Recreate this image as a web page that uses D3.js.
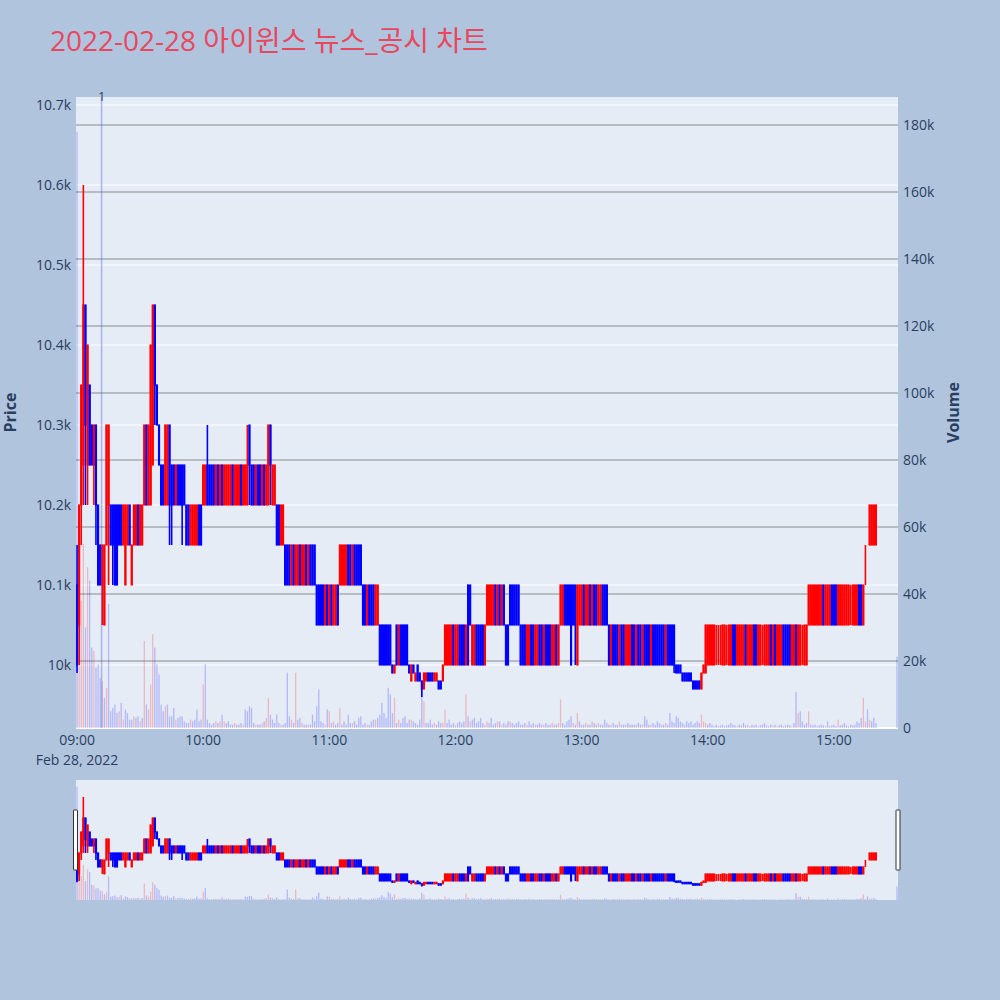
<!DOCTYPE html>
<html><head><meta charset="utf-8">
<script src="https://cdn.jsdelivr.net/npm/d3@7"></script>
<style>body{margin:0;background:#b0c4de;}svg{display:block;}</style>
</head><body>
<svg id="chart" width="1000" height="1000"></svg>
<script>
const titleText = "2022-02-28 아이윈스 뉴스_공시 차트";
const dateLabel = "Feb 28, 2022";
const hourTicks = ["09:00","10:00","11:00","12:00","13:00","14:00","15:00"];
const priceTicks = [10000,10100,10200,10300,10400,10500,10600,10700];
const priceTickLabels = ["10k","10.1k","10.2k","10.3k","10.4k","10.5k","10.6k","10.7k"];
const volumeTicks = [0,20000,40000,60000,80000,100000,120000,140000,160000,180000];
const volumeTickLabels = ["0","20k","40k","60k","80k","100k","120k","140k","160k","180k"];
const newsTimes = ["09:11:40"];
const newsLabels = ["1"];

const open = [
10100,10050,10200,10250,10450,10250,10350,10300,10250,10300,
10200,10150,10100,10050,10150,10200,10200,10200,10200,10200,
10200,10200,10150,10100,10150,10200,10100,10150,10150,10200,
10150,10150,10200,10300,10200,10200,10250,10450,10350,10300,
10250,10250,10200,10200,10300,10250,10250,10200,10250,10250,
10250,10250,10200,10200,10150,10150,10150,10150,10200,10200,
10200,10200,10250,10250,10250,10250,10200,10250,10200,10250,
10200,10200,10200,10200,10250,10200,10200,10200,10250,10200,
10200,10200,10300,10250,10250,10200,10250,10250,10200,10250,
10200,10200,10300,10200,10200,10200,10200,10150,10150,10150,
10150,10150,10100,10150,10100,10100,10150,10100,10100,10150,
10100,10150,10150,10150,10100,10100,10100,10100,10050,10100,
10050,10100,10050,10050,10100,10100,10100,10100,10100,10150,
10150,10100,10150,10150,10150,10150,10100,10100,10050,10100,
10100,10100,10050,10050,10050,10050,10050,10050,10050,10050,
10000,9990,10050,10000,10050,10050,10050,10050,10000,9980,
10000,9980,10000,9990,9980,9970,9980,9990,9990,9990,
9980,9980,9980,9980,9980,10000,10000,10000,10000,10050,
10000,10000,10050,10050,10050,10000,10100,10100,10000,10000,
10050,10050,10050,10050,10000,10050,10050,10050,10050,10100,
10050,10100,10050,10100,10050,10050,10100,10100,10100,10100,
10100,10050,10050,10050,10000,10000,10050,10050,10000,10000,
10050,10050,10000,10050,10050,10050,10000,10000,10050,10000,
10050,10050,10100,10100,10100,10100,10100,10100,10000,10050,
10050,10100,10050,10050,10100,10050,10100,10100,10050,10050,
10100,10100,10100,10050,10000,10050,10050,10050,10000,10050,
10050,10000,10000,10000,10050,10050,10000,10050,10050,10000,
10050,10050,10050,10000,10050,10050,10050,10050,10050,10050,
10000,10050,10050,10050,10050,10000,10000,10000,9990,9990,
9990,9990,9990,9980,9980,9980,9980,9970,9990,9990,
10000,10000,10000,10000,10050,10050,10050,10000,10000,10050,
10000,10000,10050,10050,10000,10000,10000,10000,10050,10000,
10000,10000,10050,10050,10000,10000,10050,10000,10000,10000,
10050,10000,10050,10000,10000,10000,10050,10050,10050,10050,
10000,10000,10050,10000,10000,10050,10000,10000,10050,10050,
10050,10050,10050,10050,10050,10100,10050,10050,10050,10100,
10100,10100,10050,10050,10050,10050,10050,10050,10100,10050,
10050,10050,10100,10100,10050,10150,10150,10150,10150,10150,
10150,10200];

const high = [
10150,10200,10350,10600,10450,10400,10350,10300,10300,10300,
10200,10150,10150,10150,10300,10300,10200,10200,10200,10200,
10200,10200,10200,10200,10200,10200,10150,10200,10200,10200,
10200,10200,10300,10300,10300,10400,10450,10450,10350,10300,
10250,10250,10300,10300,10300,10250,10250,10250,10250,10250,
10250,10250,10200,10200,10200,10200,10200,10200,10200,10200,
10250,10250,10300,10250,10250,10250,10250,10250,10250,10250,
10250,10250,10250,10250,10250,10250,10250,10250,10250,10250,
10250,10300,10300,10250,10250,10250,10250,10250,10250,10250,
10250,10300,10300,10250,10250,10200,10200,10200,10200,10150,
10150,10150,10150,10150,10150,10150,10150,10150,10150,10150,
10150,10150,10150,10150,10100,10100,10100,10100,10100,10100,
10100,10100,10100,10100,10100,10150,10150,10150,10150,10150,
10150,10150,10150,10150,10150,10150,10100,10100,10100,10100,
10100,10100,10100,10100,10050,10050,10050,10050,10050,10050,
10000,10000,10050,10050,10050,10050,10050,10050,10000,10000,
10000,9990,10000,9990,9980,9990,9990,9990,9990,9990,
9990,9990,9980,9980,10000,10050,10050,10050,10050,10050,
10050,10050,10050,10050,10050,10050,10100,10100,10050,10050,
10050,10050,10050,10050,10050,10100,10100,10100,10100,10100,
10100,10100,10100,10100,10050,10050,10100,10100,10100,10100,
10100,10050,10050,10050,10050,10050,10050,10050,10050,10050,
10050,10050,10050,10050,10050,10050,10050,10050,10050,10050,
10100,10100,10100,10100,10100,10100,10100,10100,10100,10100,
10100,10100,10100,10100,10100,10100,10100,10100,10100,10100,
10100,10100,10100,10050,10050,10050,10050,10050,10050,10050,
10050,10050,10050,10050,10050,10050,10050,10050,10050,10050,
10050,10050,10050,10050,10050,10050,10050,10050,10050,10050,
10050,10050,10050,10050,10050,10000,10000,10000,9990,9990,
9990,9990,9990,9980,9980,9980,9980,9990,10000,10050,
10050,10050,10050,10050,10050,10050,10050,10050,10050,10050,
10050,10050,10050,10050,10050,10050,10050,10050,10050,10050,
10050,10050,10050,10050,10050,10050,10050,10050,10050,10050,
10050,10050,10050,10050,10050,10050,10050,10050,10050,10050,
10050,10050,10050,10050,10050,10050,10050,10050,10100,10100,
10100,10100,10100,10100,10100,10100,10100,10100,10100,10100,
10100,10100,10100,10100,10100,10100,10100,10100,10100,10100,
10100,10100,10100,10100,10100,10150,10150,10200,10200,10200,
10200,10200];

const low = [
9990,10000,10150,10200,10200,10200,10250,10250,10200,10150,
10100,10100,10050,10050,10150,10100,10150,10100,10100,10100,
10150,10150,10150,10100,10150,10150,10100,10150,10150,10150,
10150,10150,10200,10200,10200,10200,10250,10300,10300,10250,
10200,10200,10200,10200,10150,10150,10200,10200,10200,10200,
10150,10200,10150,10150,10150,10150,10150,10150,10150,10150,
10200,10200,10200,10200,10200,10200,10200,10200,10200,10200,
10200,10200,10200,10200,10200,10200,10200,10200,10200,10200,
10200,10200,10200,10200,10200,10200,10200,10200,10200,10200,
10200,10200,10200,10200,10200,10150,10150,10150,10150,10100,
10100,10100,10100,10100,10100,10100,10100,10100,10100,10100,
10100,10100,10100,10100,10050,10050,10050,10050,10050,10050,
10050,10050,10050,10050,10050,10100,10100,10100,10100,10100,
10100,10100,10100,10100,10100,10100,10050,10050,10050,10050,
10050,10050,10050,10050,10000,10000,10000,10000,10000,10000,
9990,9990,10000,10000,10000,10000,10000,10000,9990,9980,
9990,9980,9980,9980,9960,9970,9980,9980,9980,9980,
9980,9980,9970,9970,9980,10000,10000,10000,10000,10000,
10000,10000,10000,10000,10000,10000,10000,10050,10000,10000,
10000,10000,10000,10000,10000,10050,10050,10050,10050,10050,
10050,10050,10050,10050,10000,10000,10050,10050,10050,10050,
10050,10000,10000,10000,10000,10000,10000,10000,10000,10000,
10000,10000,10000,10000,10000,10000,10000,10000,10000,10000,
10050,10050,10050,10050,10050,10000,10050,10000,10000,10050,
10050,10050,10050,10050,10050,10050,10050,10050,10050,10050,
10050,10050,10050,10000,10000,10000,10000,10000,10000,10000,
10000,10000,10000,10000,10000,10000,10000,10000,10000,10000,
10000,10000,10000,10000,10000,10000,10000,10000,10000,10000,
10000,10000,10000,10000,9990,9990,9990,9990,9980,9980,
9980,9980,9980,9970,9970,9970,9970,9970,9990,9990,
10000,10000,10000,10000,10000,10000,10000,10000,10000,10000,
10000,10000,10000,10000,10000,10000,10000,10000,10000,10000,
10000,10000,10000,10000,10000,10000,10000,10000,10000,10000,
10000,10000,10000,10000,10000,10000,10000,10000,10000,10000,
10000,10000,10000,10000,10000,10000,10000,10000,10050,10050,
10050,10050,10050,10050,10050,10050,10050,10050,10050,10050,
10050,10050,10050,10050,10050,10050,10050,10050,10050,10050,
10050,10050,10050,10050,10050,10100,10150,10150,10150,10150,
10150,10200];

const close = [
10000,10200,10350,10450,10300,10400,10250,10250,10300,10200,
10100,10100,10150,10150,10300,10300,10150,10150,10100,10100,
10150,10150,10200,10200,10200,10150,10150,10200,10200,10150,
10200,10200,10300,10200,10300,10400,10450,10350,10300,10250,
10200,10200,10300,10300,10200,10200,10200,10250,10200,10200,
10200,10200,10150,10150,10200,10200,10200,10200,10150,10150,
10250,10250,10200,10200,10200,10200,10250,10200,10250,10200,
10250,10250,10250,10250,10200,10250,10250,10250,10200,10250,
10250,10250,10250,10200,10200,10250,10200,10200,10250,10200,
10250,10300,10250,10250,10250,10150,10150,10200,10200,10100,
10100,10100,10150,10100,10150,10150,10100,10150,10150,10100,
10150,10100,10100,10100,10050,10050,10050,10050,10100,10050,
10100,10050,10100,10100,10050,10150,10150,10150,10150,10100,
10100,10150,10100,10100,10100,10100,10050,10050,10100,10050,
10050,10050,10100,10100,10000,10000,10000,10000,10000,10000,
9990,10000,10000,10050,10000,10000,10000,10000,9990,10000,
9990,9990,9980,9980,9970,9990,9990,9980,9980,9980,
9990,9990,9970,9970,10000,10050,10050,10050,10050,10000,
10050,10050,10000,10000,10000,10050,10000,10050,10050,10050,
10000,10000,10000,10000,10050,10100,10100,10100,10100,10050,
10100,10050,10100,10050,10000,10000,10050,10050,10050,10050,
10050,10000,10000,10000,10050,10050,10000,10000,10050,10050,
10000,10000,10050,10000,10000,10000,10050,10050,10000,10050,
10100,10100,10050,10050,10050,10000,10050,10050,10100,10100,
10100,10050,10100,10100,10050,10100,10050,10050,10100,10100,
10050,10050,10050,10000,10050,10000,10000,10000,10050,10000,
10000,10050,10050,10050,10000,10000,10050,10000,10000,10050,
10000,10000,10000,10050,10000,10000,10000,10000,10000,10000,
10050,10000,10000,10000,10000,9990,9990,9990,9980,9980,
9980,9980,9980,9970,9970,9970,9970,9990,10000,10050,
10050,10050,10050,10050,10050,10050,10050,10050,10050,10050,
10050,10050,10000,10000,10050,10050,10050,10050,10000,10050,
10050,10050,10000,10000,10050,10050,10050,10050,10050,10050,
10000,10050,10000,10050,10050,10050,10000,10000,10000,10000,
10050,10050,10000,10050,10050,10050,10050,10050,10100,10100,
10100,10100,10100,10100,10100,10050,10100,10100,10100,10050,
10050,10050,10100,10100,10100,10100,10100,10100,10100,10100,
10100,10100,10050,10050,10100,10150,10150,10200,10200,10200,
10200,10200];

const volume = [
178000,42000,38000,55000,30000,48000,44000,24000,23000,18000,
19000,15000,14000,9000,12000,37000,5000,6000,7000,4500,
5000,7500,2500,5500,4500,2500,2500,3500,3000,3500,
2000,3000,26000,7000,5500,13000,28000,24000,19000,16000,
7000,5000,6500,7000,3500,3500,6000,2500,3000,3500,
3500,2000,1500,1500,2500,2000,2500,5500,2000,2500,
13000,19000,2500,1500,1000,1500,2000,1500,2000,4000,
2000,1500,2000,1000,1000,1500,1000,1000,1500,1000,
5500,5000,6500,6000,1500,1000,1000,1000,1500,2000,
3000,9000,4000,2500,1500,4000,1500,1000,1000,1500,
16500,3500,2500,1500,16500,2500,3000,1500,1000,1000,
1000,1000,4000,2000,6500,11500,2000,1500,1000,5500,
5000,1500,2000,1000,1500,6000,1000,2000,1000,4000,
1500,1500,2000,1000,3000,3500,1000,1500,1000,1000,
2000,2500,2500,3000,4000,7500,4500,3000,12000,10000,
4500,9000,1500,2500,1500,3000,3500,1500,2500,2500,
2000,1500,1000,2500,11000,8000,1500,1500,2500,1000,
1500,1000,2000,1500,1500,5500,1500,2500,1000,1500,
1000,1500,2000,1500,2000,10000,3500,2000,2500,3000,
1500,2000,3000,1500,1000,2000,1500,3000,1000,1500,
2000,2000,1000,1500,1000,2000,2000,1500,1000,1500,
2000,1000,1000,1500,1000,2000,1000,1500,1000,1000,
1500,1000,1000,1500,1000,1000,1500,1000,1000,1500,
8500,1500,1000,2000,2500,3500,1500,1000,4500,2000,
1000,1000,1500,1000,1000,2000,1500,1000,1500,1000,
1000,2500,1500,1000,1000,1500,1000,1000,2000,1000,
1000,1000,1500,1000,1000,1000,1000,1500,1000,1000,
3500,2500,1000,1000,1500,1000,2000,1500,1000,1000,
1500,1000,4500,2000,1500,3500,3000,2000,1500,1000,
2000,1500,2000,1000,1500,2000,1500,4000,2000,1500,
1000,1500,1000,500,1000,500,800,1000,500,800,
1000,1500,1000,800,500,1000,800,1500,800,1000,
500,1000,800,1000,500,800,1000,1500,800,500,
1000,800,1000,500,800,1000,500,800,1000,800,
500,1500,10800,4500,5000,2000,1000,1500,5000,1000,
800,1000,500,800,1000,800,500,2000,500,800,
1000,500,2500,800,1000,1500,800,500,1000,800,
1000,2000,1500,3000,9000,2000,5500,2500,2000,3000,
1500,21300];

// trading minutes: 09:00 .. 15:20 continuous, then the 15:30 closing auction
const times = d3.timeMinute.range(new Date(2022,1,28,9,0), new Date(2022,1,28,15,21))
  .concat([new Date(2022,1,28,15,30)]);
const n = Math.min(times.length, open.length, high.length, low.length, close.length, volume.length);

const parseHM = d3.timeParse("%Y-%m-%d %H:%M");
const parseHMS = d3.timeParse("%Y-%m-%d %H:%M:%S");

const FONT = "'Open Sans','Noto Sans CJK KR','Noto Sans',sans-serif";
const TXT = "#2a3f5f";
const UP = "#ff0000", DOWN = "#0000ff";

const svg = d3.select("#chart");
svg.append("rect").attr("width",1000).attr("height",1000).attr("fill","#b0c4de");

const L = 76, R = 898, T = 97, B = 728;
const x = d3.scaleTime()
  .domain([new Date(2022,1,28,8,59,30), new Date(2022,1,28,15,30,30)])
  .range([L, R]);
const yP = d3.scaleLinear().domain([9921.25, 10710]).range([B, T]);
const yV = d3.scaleLinear().domain([0, 188360]).range([B, T]);

const step = x(times[1]) - x(times[0]);
const bodyW = step * 0.45;
const volW = step * 0.62;

const defs = svg.append("defs");
defs.append("clipPath").attr("id","clipMain").append("rect")
  .attr("x",L).attr("y",T).attr("width",R-L).attr("height",B-T);
defs.append("clipPath").attr("id","clipSlider").append("rect")
  .attr("x",L).attr("y",780).attr("width",R-L).attr("height",120);

// Title
svg.append("text").attr("x",50).attr("y",50.5)
  .attr("font-family",FONT).attr("font-size",28).attr("fill","#e8485e")
  .text(titleText);

// Plot background
svg.append("rect").attr("x",L).attr("y",T).attr("width",R-L).attr("height",B-T).attr("fill","#e5ecf6");

// grid: price (white)
svg.append("g").selectAll("line").data(priceTicks).join("line")
  .attr("x1",L).attr("x2",R).attr("y1",d=>yP(d)).attr("y2",d=>yP(d))
  .attr("stroke","#ffffff").attr("stroke-width",1);
// grid: volume (gray)
svg.append("g").selectAll("line").data(volumeTicks.slice(1)).join("line")
  .attr("x1",L).attr("x2",R).attr("y1",d=>yV(d)).attr("y2",d=>yV(d))
  .attr("stroke","#8c8c8c").attr("stroke-width",1.2);
svg.append("line").attr("x1",L).attr("x2",R).attr("y1",yV(0)).attr("y2",yV(0))
  .attr("stroke","#ffffff").attr("stroke-width",2);

const idx = d3.range(n);
function isUp(i){ return close[i] >= open[i]; }
function volUp(i){ return i === 0 ? close[i] > open[i] : close[i] > close[i-1]; }

function drawTraces(g, xs, yp, yv, bw, vw){
  const c = g.append("g");
  c.selectAll("line.wick").data(idx).join("line").attr("class","wick")
    .attr("x1",i=>xs(times[i])).attr("x2",i=>xs(times[i]))
    .attr("y1",i=>yp(high[i])).attr("y2",i=>yp(low[i]))
    .attr("stroke",i=>isUp(i)?UP:DOWN).attr("stroke-width",1.6);
  c.selectAll("rect.body").data(idx).join("rect").attr("class","body")
    .attr("x",i=>xs(times[i])-bw/2).attr("width",bw)
    .attr("y",i=>yp(Math.max(open[i],close[i])))
    .attr("height",i=>Math.abs(yp(open[i])-yp(close[i])))
    .attr("fill",i=>isUp(i)?UP:DOWN).attr("stroke",i=>isUp(i)?UP:DOWN).attr("stroke-width",1.2);
  const v = g.append("g");
  v.selectAll("rect").data(idx).join("rect")
    .attr("x",i=>xs(times[i])-vw/2).attr("width",vw)
    .attr("y",i=>yv(volume[i])).attr("height",i=>yv(0)-yv(volume[i]))
    .attr("fill",i=>volUp(i)?"rgba(255,0,0,0.22)":"rgba(0,0,255,0.22)");
}

const main = svg.append("g").attr("clip-path","url(#clipMain)");
drawTraces(main, x, yP, yV, bodyW, volW);

// news marker
const newsDates = newsTimes.map(t=>parseHMS("2022-02-28 "+t));
main.selectAll("line.news").data(newsDates).join("line").attr("class","news")
  .attr("x1",d=>x(d)).attr("x2",d=>x(d)).attr("y1",T).attr("y2",B)
  .attr("stroke","rgba(60,80,220,0.35)").attr("stroke-width",1.6);
svg.selectAll("text.news").data(newsDates).join("text").attr("class","news")
  .attr("x",d=>x(d)).attr("y",101).attr("text-anchor","middle")
  .attr("font-family",FONT).attr("font-size",12).attr("fill",TXT)
  .text((d,i)=>newsLabels[i]);

// Left axis labels
svg.append("g").selectAll("text").data(priceTicks).join("text")
  .attr("x",71).attr("y",d=>yP(d)).attr("dy","0.35em").attr("text-anchor","end")
  .attr("font-family",FONT).attr("font-size",14).attr("fill",TXT)
  .text((d,i)=>priceTickLabels[i]);
// Right axis labels
svg.append("g").selectAll("text").data(volumeTicks).join("text")
  .attr("x",903).attr("y",d=>yV(d)).attr("dy","0.35em").attr("text-anchor","start")
  .attr("font-family",FONT).attr("font-size",14).attr("fill",TXT)
  .text((d,i)=>volumeTickLabels[i]);
// X labels
const hourDates = hourTicks.map(h=>parseHM("2022-02-28 "+h));
svg.append("g").selectAll("text").data(hourDates).join("text")
  .attr("x",d=>x(d)).attr("y",745).attr("text-anchor","middle")
  .attr("font-family",FONT).attr("font-size",14).attr("fill",TXT)
  .text((d,i)=>hourTicks[i]);
svg.append("text").attr("x",x(hourDates[0])).attr("y",764.5).attr("text-anchor","middle")
  .attr("font-family",FONT).attr("font-size",14).attr("fill",TXT).text(dateLabel);

// Axis titles
svg.append("text").attr("transform","translate(10,412.5) rotate(-90)")
  .attr("text-anchor","middle").attr("dy","0.35em")
  .attr("font-family",FONT).attr("font-size",16).attr("font-weight","bold").attr("fill",TXT)
  .text("Price");
svg.append("text").attr("transform","translate(953.5,412.5) rotate(-90)")
  .attr("text-anchor","middle").attr("dy","0.35em")
  .attr("font-family",FONT).attr("font-size",16).attr("font-weight","bold").attr("fill",TXT)
  .text("Volume");

// Range slider
const ST = 780, SB = 900;
svg.append("rect").attr("x",L).attr("y",ST).attr("width",R-L).attr("height",SB-ST).attr("fill","#e5ecf6");
const ysP = d3.scaleLinear().domain([9864, 10721]).range([SB, ST]);
const ysV = d3.scaleLinear().domain([0, 188360]).range([SB, ST]);
const slider = svg.append("g").attr("clip-path","url(#clipSlider)");
drawTraces(slider, x, ysP, ysV, bodyW, volW);
[73.5, 896].forEach(hx=>{
  svg.append("rect").attr("x",hx).attr("y",810).attr("width",4).attr("height",60)
    .attr("fill","#ffffff").attr("stroke","#333333").attr("stroke-width",1).attr("rx",0.5);
});
</script>
</body></html>
